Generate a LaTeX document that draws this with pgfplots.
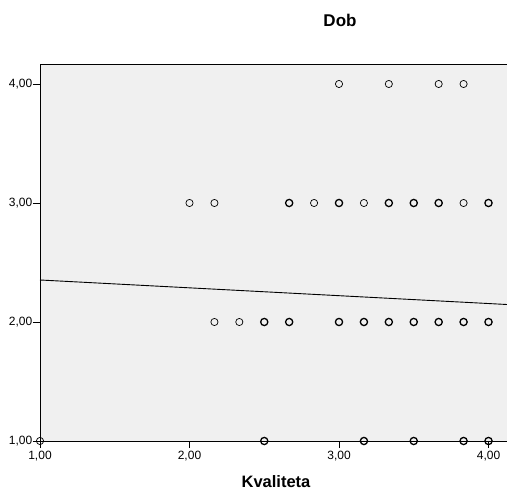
\documentclass[border=0pt]{standalone}
\usepackage{pgfplots}
\pgfplotsset{compat=1.18}
\usepackage{fontspec}
\setmainfont{Liberation Sans}
\definecolor{bgc}{HTML}{F0F0F0}
\begin{document}
\begin{tikzpicture}
\path[use as bounding box] (-40pt,-52pt) rectangle (467pt,441pt);
\begin{axis}[
  at={(0pt,0pt)}, anchor=south west,
  scale only axis, width=467pt, height=377pt,
  xmin=1, xmax=4.1237, ymin=1, ymax=4.168,
  xtick={1,2,3,4}, ytick={1,2,3,4},
  tick align=outside, xtick pos=bottom, ytick pos=left,
  major tick length=7pt,
  tick style={black, line width=0.8pt},
  axis line style={black, line width=0.8pt},
  axis background/.style={fill=bgc},
  /pgf/number format/assume math mode=true,
  /pgf/number format/.cd, use comma, fixed, fixed zerofill, precision=2, /pgfplots/.cd,
  ticklabel style={font=\fontsize{12}{14}\selectfont},
  yticklabel style={inner xsep=0.5pt},
  clip mode=individual,
]
\addplot[only marks, mark=o, mark size=3.6pt, line width=0.7pt, black] coordinates {
(3.0,4) (3.3333,4) (3.6667,4) (3.8333,4)
(2.0,3) (2.1667,3) (2.8333,3) (3.1667,3) (3.8333,3)
(2.1667,2) (2.3333,2)
(1.0,1)
};
\addplot[only marks, mark=o, mark size=3.6pt, line width=1.3pt, black] coordinates {
(2.6667,3) (3.0,3) (3.3333,3) (3.5,3) (3.6667,3) (4.0,3)
(2.5,2) (2.6667,2) (3.0,2) (3.1667,2) (3.3333,2) (3.5,2) (3.6667,2) (3.8333,2) (4.0,2)
(2.5,1) (3.1667,1) (3.5,1) (3.8333,1) (4.0,1)
};
\addplot[black, line width=0.9pt, no marks] coordinates {(1,2.353) (4.1237,2.147)};
\end{axis}
\node[font=\fontsize{17}{19}\selectfont\bfseries] at (300pt,421pt) {Dob};
\node[font=\fontsize{16.5}{19}\selectfont\bfseries] at (236pt,-41pt) {Kvaliteta};
\end{tikzpicture}
\end{document}
